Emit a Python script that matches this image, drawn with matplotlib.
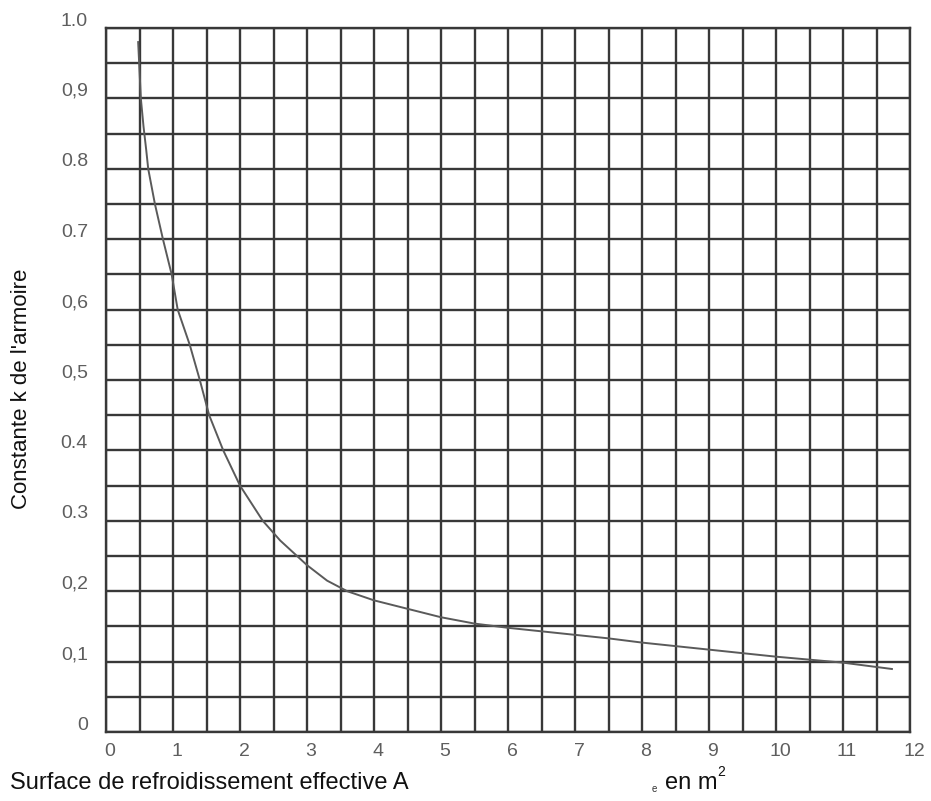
import numpy as np
import matplotlib
matplotlib.use("Agg")
from matplotlib import pyplot
from matplotlib.transforms import ScaledTranslation

# courbe
surface = [0.48, 0.50, 0.52, 0.56, 0.60, 0.63, 0.73, 0.85, 0.98, 1.07, 1.25, 1.40,
           1.54, 1.75, 2.0, 2.34, 2.6, 3.0, 3.3, 3.6, 4.0, 4.5, 5.0, 5.5, 6.0,
           6.5, 7.0, 7.5, 8.0, 9.0, 10.0, 11.0, 11.73]
constante_k = [0.98, 0.94, 0.90, 0.86, 0.827, 0.80, 0.75, 0.70, 0.65, 0.60, 0.55, 0.50,
               0.45, 0.40, 0.35, 0.30, 0.272, 0.237, 0.215, 0.200, 0.187, 0.175, 0.163,
               0.154, 0.148, 0.143, 0.138, 0.133, 0.127, 0.117, 0.107, 0.0985, 0.0895]

x_ticks = list(range(13))
y_ticks = [0, 0.1, 0.2, 0.3, 0.4, 0.5, 0.6, 0.7, 0.8, 0.9, 1.0]
y_tick_labels = ["0", "0,1", "0,2", "0.3", "0.4", "0,5", "0,6", "0.7", "0.8", "0,9", "1.0"]

pyplot.rcParams["font.family"] = ["Liberation Sans", "DejaVu Sans"]

W, H = 931, 801
fig = pyplot.figure(figsize=(W / 100, H / 100), dpi=100)
ax = fig.add_axes([106 / W, 1 - 732 / H, (910 - 106) / W, (732 - 28) / H])

grid_color = "#383838"
ax.set_xlim(0, 12)
ax.set_ylim(0, 1.0)
ax.set_xticks(np.arange(0, 12.01, 0.5), minor=True)
ax.set_yticks(np.arange(0, 1.001, 0.05), minor=True)
ax.set_xticks(x_ticks)
ax.set_yticks(y_ticks)
ax.set_yticklabels(y_tick_labels)
ax.grid(which="both", color=grid_color, linewidth=1.7, zorder=1)
ax.set_axisbelow(True)
for s in ax.spines.values():
    s.set_color(grid_color)
    s.set_linewidth(1.7)

ax.plot(surface, constante_k, color="#5a5a5a", linewidth=1.4, zorder=3)

ax.tick_params(which="both", length=0)
ax.tick_params(axis="x", pad=8, labelsize=14, labelcolor="#5e5e5e")
ax.tick_params(axis="y", pad=13, labelsize=14, labelcolor="#5e5e5e")

dy = ScaledTranslation(0, 9 / 100, fig.dpi_scale_trans)
for lab in ax.get_yticklabels():
    lab.set_transform(lab.get_transform() + dy)
dx = ScaledTranslation(4 / 100, 0, fig.dpi_scale_trans)
for lab in ax.get_xticklabels():
    lab.set_transform(lab.get_transform() + dx)

fig.text(22 / W, 1 - 389 / H, "Constante k de l'armoire", rotation=90,
         ha="center", va="center", fontsize=16, color="#111111")
fig.text(10 / W, 1 - 783 / H, "Surface de refroidissement effective A",
         ha="left", va="center", fontsize=17, color="#111111")
fig.text(652 / W, 1 - 789 / H, "e", ha="left", va="center", fontsize=7, color="#333333")
fig.text(665 / W, 1 - 783 / H, "en m", ha="left", va="center", fontsize=17, color="#111111")
fig.text(717 / W, 1 - 772 / H, "2", ha="left", va="center", fontsize=10, color="#111111")

fig.savefig("out.png", dpi=100)
